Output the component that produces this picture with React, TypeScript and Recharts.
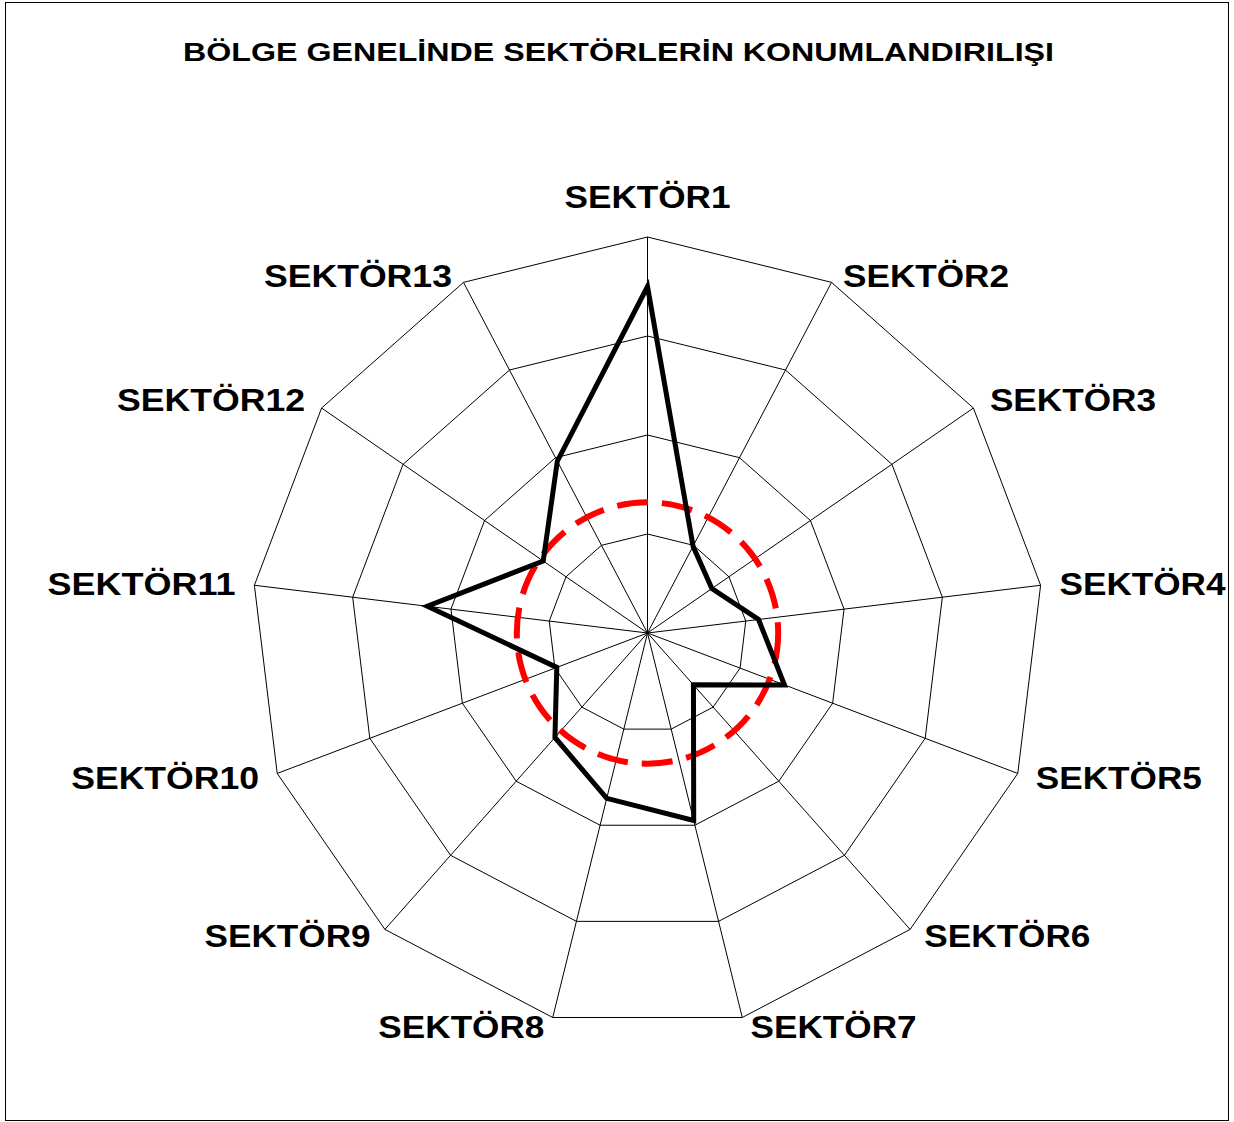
import { PolarAngleAxis, PolarGrid, PolarRadiusAxis, Radar, RadarChart } from "recharts";

const sectors = [
  "SEKTÖR1",
  "SEKTÖR2",
  "SEKTÖR3",
  "SEKTÖR4",
  "SEKTÖR5",
  "SEKTÖR6",
  "SEKTÖR7",
  "SEKTÖR8",
  "SEKTÖR9",
  "SEKTÖR10",
  "SEKTÖR11",
  "SEKTÖR12",
  "SEKTÖR13",
];

// black series: position of each sector
const positionValues = [3.5, 0.99, 0.79, 1.13, 1.48, 0.7, 1.95, 1.72, 1.41, 0.98, 2.24, 1.28, 1.96];

// red dashed reference (regional average level)
const averageValues = [1.32, 1.32, 1.32, 1.32, 1.32, 1.32, 1.32, 1.32, 1.32, 1.32, 1.32, 1.32, 1.32];

const radiusTicks = [0, 1, 2, 3, 4];

const data = sectors.map((name, i) => ({
  name,
  position: positionValues[i],
  average: averageValues[i],
}));

const CX = 647.5;
const CY = 633;
const FONT = "'Liberation Sans', Arial, Helvetica, sans-serif";

function SectorTick(props: any) {
  const { x, y, textAnchor, payload } = props;
  const label = String(payload.value);
  const shiftX = textAnchor === "start" ? 5 : textAnchor === "end" ? -5 : 0;
  let dy = 11;
  if (textAnchor === "middle") dy = -15;
  else if (y - CY < -300) dy = 17;
  else if (y - CY > 250) dy = 7;
  return (
    <text
      x={x + shiftX}
      y={y + dy}
      textAnchor={textAnchor}
      fontFamily={FONT}
      fontWeight="bold"
      fontSize={32}
      fill="#000"
      textLength={label.length > 7 ? 188 : 166}
      lengthAdjust="spacingAndGlyphs"
    >
      {label}
    </text>
  );
}

function CircleShape(props: any) {
  const pts = props.points || [];
  if (!pts.length) return null;
  return (
    <circle
      cx={pts[0].cx}
      cy={pts[0].cy}
      r={pts[0].radius}
      fill="none"
      stroke="#ff0000"
      strokeWidth={6}
      strokeDasharray="31 14"
    />
  );
}

export default function App() {
  return (
    <div style={{ position: "absolute", left: 0, top: 0, width: 1234, height: 1122, background: "#fff" }}>
      <div
        style={{
          position: "absolute",
          left: 5,
          top: 2,
          width: 1222,
          height: 1117,
          border: "1px solid #000",
        }}
      />
      <svg width={1234} height={90} style={{ position: "absolute", left: 0, top: 0 }}>
        <text
          x={618.5}
          y={61}
          textAnchor="middle"
          fontFamily={FONT}
          fontWeight="bold"
          fontSize={26}
          fill="#000"
          textLength={871}
          lengthAdjust="spacingAndGlyphs"
        >
          BÖLGE GENELİNDE SEKTÖRLERİN KONUMLANDIRILIŞI
        </text>
      </svg>
      <div style={{ position: "absolute", left: 0, top: 0 }}>
        <RadarChart
          width={1234}
          height={1122}
          data={data}
          cx={CX}
          cy={CY}
          outerRadius={396}
          margin={{ top: 0, right: 0, bottom: 0, left: 0 }}
        >
          <PolarGrid gridType="polygon" stroke="#000" strokeWidth={1} strokeOpacity={1} />
          <PolarAngleAxis
            dataKey="name"
            tick={SectorTick}
            tickLine={false}
            axisLine={false}
            tickSize={14}
          />
          <PolarRadiusAxis
            type="number"
            domain={[0, 4]}
            ticks={radiusTicks as any}
            tick={false}
            axisLine={false}
            tickLine={false}
          />
          <Radar
            dataKey="average"
            fill="none"
            stroke="#ff0000"
            shape={CircleShape}
            isAnimationActive={false}
          />
          <Radar
            dataKey="position"
            fill="none"
            fillOpacity={0}
            stroke="#000"
            strokeWidth={5}
            strokeLinejoin="miter"
            dot={false}
            isAnimationActive={false}
          />
        </RadarChart>
      </div>
    </div>
  );
}
